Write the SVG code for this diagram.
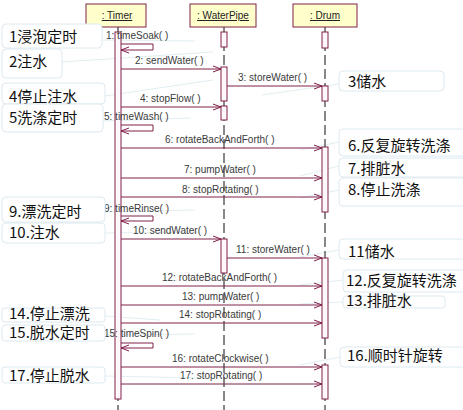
<svg xmlns="http://www.w3.org/2000/svg" width="463" height="410" viewBox="0 0 463 410">
<defs>
<marker id="arr" markerWidth="10" markerHeight="8" refX="9" refY="4" orient="auto" markerUnits="userSpaceOnUse">
<path d="M1,1 L9,4 L1,7" fill="none" stroke="#80204a" stroke-width="1"/>
</marker>
<style>
.hdr{fill:#ffffcc;stroke:#80204a;stroke-width:1}
.htx{font-family:"Liberation Sans",Arial,sans-serif;font-size:10px;fill:#222;text-decoration:underline;text-anchor:middle}
.life{stroke:#111;stroke-width:1;stroke-dasharray:10,4;fill:none}
.act{fill:#fff8fb;stroke:#80204a;stroke-width:1}
.msg{stroke:#80204a;stroke-width:1;fill:none;marker-end:url(#arr)}
.self{stroke:#80204a;stroke-width:1;fill:none;marker-end:url(#arr)}
.ml{font-family:"Liberation Sans",Arial,sans-serif;font-size:10px;fill:#3a3a3a}
.note{fill:#ffffff;stroke:#dce9ef;stroke-width:1}
.nt{font-family:"Noto Sans CJK SC","Noto Sans",sans-serif;font-size:15px;fill:#111}
.lead{stroke:#e2eef2;stroke-width:1;fill:none}
</style>
</defs>
<rect width="463" height="410" fill="#ffffff"/>

<g id="leads">
<path class="lead" d="M102,40 L195,41"/>
<path class="lead" d="M62,62 L213,52"/>
<path class="lead" d="M105,96 L213,80"/>
<path class="lead" d="M339,84 L262,95"/>
<path class="lead" d="M103,121 L190,118"/>
<path class="lead" d="M339,142 L300,150"/>
<path class="lead" d="M339,166 L300,176"/>
<path class="lead" d="M339,190 L300,198"/>
<path class="lead" d="M105,212 L195,210"/>
<path class="lead" d="M105,233 L200,232"/>
<path class="lead" d="M339,250 L300,257"/>
<path class="lead" d="M343,280 L300,285"/>
<path class="lead" d="M343,302 L300,304"/>
<path class="lead" d="M105,316 L160,320"/>
<path class="lead" d="M105,335 L195,334"/>
<path class="lead" d="M340,357 L300,365"/>
<path class="lead" d="M105,376 L200,378"/>
</g>

<g id="timer">
<line class="life" x1="118" y1="27" x2="118" y2="410"/>
<rect class="hdr" x="86" y="4" width="60" height="23"/>
<text class="htx" x="117" y="19">: Timer</text>
<rect class="act" x="115" y="32" width="6" height="367"/>
</g>

<g id="waterpipe">
<line class="life" x1="224" y1="27" x2="224" y2="410"/>
<rect class="hdr" x="190" y="4" width="66" height="23"/>
<text class="htx" x="223" y="19">: WaterPipe</text>
<rect class="act" x="221" y="32" width="6" height="15"/>
<rect class="act" x="221" y="67" width="6" height="34"/>
<rect class="act" x="221" y="106" width="6" height="14"/>
<rect class="act" x="221" y="239" width="6" height="34"/>
</g>

<g id="drum">
<line class="life" x1="325" y1="27" x2="325" y2="410"/>
<rect class="hdr" x="293" y="4" width="64" height="23"/>
<text class="htx" x="325" y="19">: Drum</text>
<rect class="act" x="322" y="32" width="6" height="16"/>
<rect class="act" x="322" y="86" width="6" height="15"/>
<rect class="act" x="322" y="147" width="6" height="65"/>
<rect class="act" x="322" y="258" width="6" height="80"/>
<rect class="act" x="322" y="365" width="6" height="34"/>
</g>

<g id="connectors">
<path class="self" d="M121,44 H153 V50 H121"/>
<path class="msg" d="M121,69 H221"/>
<path class="msg" d="M227,86 H322"/>
<path class="msg" d="M121,107 H221"/>
<path class="self" d="M121,125 H153 V131 H121"/>
<path class="msg" d="M121,148 H322"/>
<path class="msg" d="M121,178 H322"/>
<path class="msg" d="M121,197 H322"/>
<path class="self" d="M121,216 H153 V221 H121"/>
<path class="msg" d="M121,239 H221"/>
<path class="msg" d="M227,258 H322"/>
<path class="msg" d="M121,286 H322"/>
<path class="msg" d="M121,305 H322"/>
<path class="msg" d="M121,323 H322"/>
<path class="self" d="M121,343 H153 V348 H121"/>
<path class="msg" d="M121,367 H322"/>
<path class="msg" d="M121,384 H322"/>
</g>

<g id="msg-labels">
<text class="ml" x="106" y="39">1: timeSoak( )</text>
<text class="ml" x="135" y="64">2: sendWater( )</text>
<text class="ml" x="238" y="81">3: storeWater( )</text>
<text class="ml" x="140" y="102">4: stopFlow( )</text>
<text class="ml" x="104" y="120">5: timeWash( )</text>
<text class="ml" x="165" y="143">6: rotateBackAndForth( )</text>
<text class="ml" x="184" y="173">7: pumpWater( )</text>
<text class="ml" x="182" y="193">8: stopRotating( )</text>
<text class="ml" x="104" y="212">9: timeRinse( )</text>
<text class="ml" x="133" y="234">10: sendWater( )</text>
<text class="ml" x="236" y="253">11: storeWater( )</text>
<text class="ml" x="162" y="281">12: rotateBackAndForth( )</text>
<text class="ml" x="182" y="300">13: pumpWater( )</text>
<text class="ml" x="179" y="318">14: stopRotating( )</text>
<text class="ml" x="104" y="337">15: timeSpin( )</text>
<text class="ml" x="172" y="362">16: rotateClockwise( )</text>
<text class="ml" x="180" y="379">17: stopRotating( )</text>
</g>

<g id="note1"><rect class="note" x="2" y="24" width="100" height="24" rx="4"/><text class="nt" x="9" y="42">1浸泡定时</text></g>
<g id="note2"><rect class="note" x="2" y="49" width="60" height="29" rx="4"/><text class="nt" x="9" y="67">2注水</text></g>
<g id="note3"><rect class="note" x="339" y="71" width="105" height="20" rx="4"/><text class="nt" x="348" y="87">3储水</text></g>
<g id="note4"><rect class="note" x="2" y="83" width="103" height="21" rx="4"/><text class="nt" x="9" y="102">4停止注水</text></g>
<g id="note5"><rect class="note" x="2" y="104" width="101" height="28" rx="4"/><text class="nt" x="9" y="123">5洗涤定时</text></g>
<g id="note6"><rect class="note" x="339" y="129" width="130" height="27" rx="4"/><text class="nt" x="348" y="151">6.反复旋转洗涤</text></g>
<g id="note7"><rect class="note" x="339" y="158" width="130" height="19" rx="4"/><text class="nt" x="348" y="174">7.排脏水</text></g>
<g id="note8"><rect class="note" x="339" y="178" width="130" height="28" rx="4"/><text class="nt" x="348" y="195">8.停止洗涤</text></g>
<g id="note9"><rect class="note" x="2" y="197" width="103" height="25" rx="4"/><text class="nt" x="9" y="217">9.漂洗定时</text></g>
<g id="note10"><rect class="note" x="2" y="223" width="103" height="20" rx="4"/><text class="nt" x="9" y="238">10.注水</text></g>
<g id="note11"><rect class="note" x="339" y="239" width="130" height="20" rx="4"/><text class="nt" x="348" y="257">11储水</text></g>
<g id="note12"><rect class="note" x="343" y="270" width="126" height="22" rx="4"/><text class="nt" x="346" y="286">12.反复旋转洗涤</text></g>
<g id="note13"><rect class="note" x="343" y="296" width="102" height="12" rx="3"/><text class="nt" x="346" y="306">13.排脏水</text></g>
<g id="note14"><rect class="note" x="2" y="308" width="103" height="14" rx="3"/><text class="nt" x="9" y="319">14.停止漂洗</text></g>
<g id="note15"><rect class="note" x="2" y="325" width="103" height="16" rx="3"/><text class="nt" x="9" y="338">15.脱水定时</text></g>
<g id="note16"><rect class="note" x="340" y="347" width="129" height="20" rx="4"/><text class="nt" x="347" y="361">16.顺时针旋转</text></g>
<g id="note17"><rect class="note" x="2" y="367" width="103" height="16" rx="3"/><text class="nt" x="9" y="381">17.停止脱水</text></g>
</svg>
